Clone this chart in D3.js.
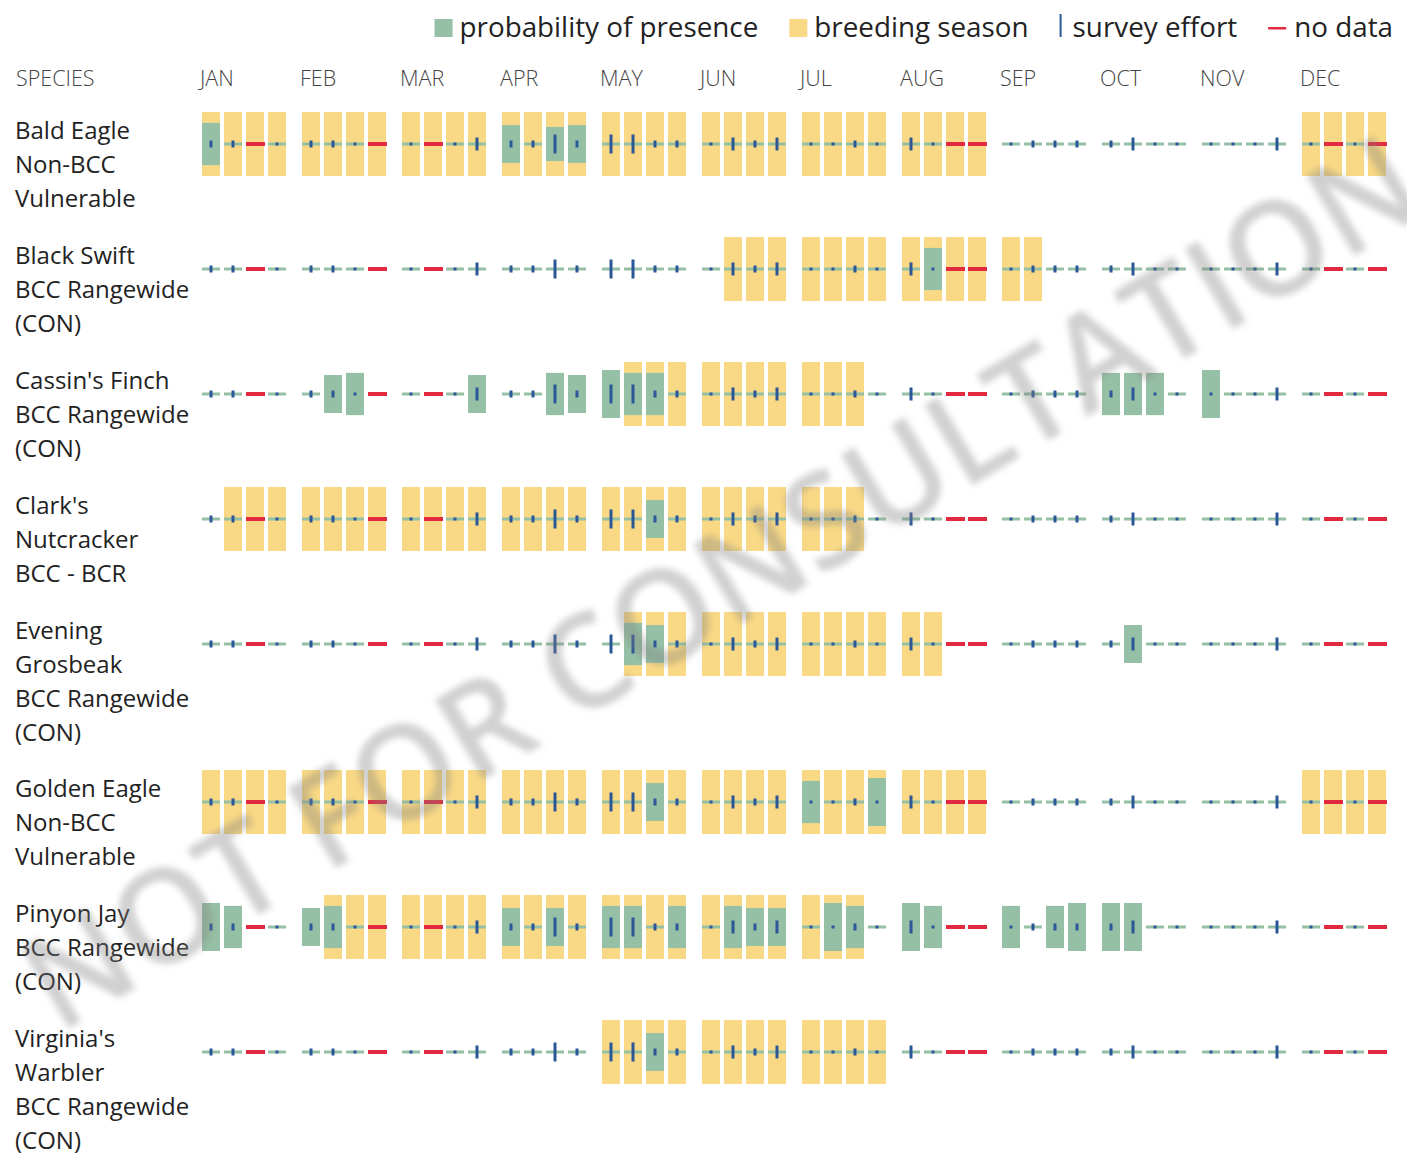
<!DOCTYPE html>
<html>
<head>
<meta charset="utf-8">
<script src="https://cdn.jsdelivr.net/npm/d3@7"></script>
<style>
  body { margin: 0; background: #fff; }
  text { font-family: "Open Sans", "Noto Sans", sans-serif; }
</style>
</head>
<body>
<div id="chart"></div>
<script>
const months = ["JAN", "FEB", "MAR", "APR", "MAY", "JUN", "JUL", "AUG", "SEP", "OCT", "NOV", "DEC"];
const weeks = [0, 1, 2, 3];

const speciesLabels = [
    ["Bald Eagle", "Non-BCC", "Vulnerable"],
    ["Black Swift", "BCC Rangewide", "(CON)"],
    ["Cassin's Finch", "BCC Rangewide", "(CON)"],
    ["Clark's", "Nutcracker", "BCC - BCR"],
    ["Evening", "Grosbeak", "BCC Rangewide", "(CON)"],
    ["Golden Eagle", "Non-BCC", "Vulnerable"],
    ["Pinyon Jay", "BCC Rangewide", "(CON)"],
    ["Virginia's", "Warbler", "BCC Rangewide", "(CON)"]
];

// survey effort per week (same for every species), null = no data
const surveyEffort = [
    1, 1, null, 0,   1, 1, 0, null,   0, null, 0, 2,   1, 1, 3, 1,
    3, 3, 1, 1,      0, 2, 1, 2,      0, 0, 1, 0,      2, 0, null, null,
    0, 1, 1, 1,      1, 2, 0, 0,      0, 0, 0, 2,      0, null, 0, null
];

// breeding season, inclusive week ranges
const breedingWeeks = [
    [[0, 31], [44, 47]],
    [[21, 33]],
    [[17, 26]],
    [[1, 26]],
    [[17, 29]],
    [[0, 31], [44, 47]],
    [[5, 26]],
    [[16, 27]]
];

// probability of presence, [week, probability]
const presence = [
    [[0, 0.88], [12, 0.79], [14, 0.71], [15, 0.79]],
    [[29, 0.88]],
    [[5, 0.79], [6, 0.88], [11, 0.79], [14, 0.88], [15, 0.79], [16, 1], [17, 0.88], [18, 0.88],
     [36, 0.88], [37, 0.88], [38, 0.88], [40, 1]],
    [[18, 0.79]],
    [[17, 0.88], [18, 0.79], [37, 0.79]],
    [[18, 0.79], [24, 0.88], [27, 1]],
    [[0, 1], [1, 0.88], [4, 0.79], [5, 0.88], [12, 0.79], [14, 0.79], [16, 0.88], [17, 0.88],
     [19, 0.88], [21, 0.88], [22, 0.79], [23, 0.79], [25, 1], [26, 0.88], [28, 1], [29, 0.88],
     [32, 0.88], [34, 0.88], [35, 1], [36, 1], [37, 1]],
    [[18, 0.79]]
];

const legendItems = [
    { label: "probability of presence", type: "presence" },
    { label: "breeding season", type: "breeding" },
    { label: "survey effort", type: "effort" },
    { label: "no data", type: "nodata" }
];

const colors = {
    presence: "#96c0a5",
    breeding: "#f9d985",
    effort: "#2b5797",
    nodata: "#e3293f"
};

const width = 1407;
const height = 1153;

const svg = d3.select("#chart")
    .append("svg")
    .attr("width", width)
    .attr("height", height);

const xMonth = d3.scaleBand()
    .domain(months)
    .range([202, 1386])
    .paddingInner(0.16)
    .paddingOuter(0);

const xWeek = d3.scaleBand()
    .domain(weeks)
    .range([0, xMonth.bandwidth()])
    .paddingInner(0.18);

const pScale = d3.scaleLinear().domain([0, 1]).range([0, 48]);
const effortScale = d3.scaleLinear().domain([0, 3]).range([1, 19]);
const cellH = 64;
const cw = xWeek.bandwidth();

const cellX = k => xMonth(months[Math.floor(k / 4)]) + xWeek(k % 4);

// row centres depend on the number of label lines
var rowY = [];
var y0 = 144;
speciesLabels.forEach(lines => {
    rowY.push(y0);
    y0 += lines.length * 33 + 26;
});

// header
svg.append("text")
    .attr("x", 16)
    .attr("y", 86)
    .attr("font-size", 21.5)
    .attr("font-weight", 300)
    .attr("fill", "#444")
    .text("SPECIES");

svg.append("g")
    .selectAll("text")
    .data(months)
    .enter().append("text")
    .attr("x", d => xMonth(d) - 2)
    .attr("y", 86)
    .attr("font-size", 21.5)
    .attr("font-weight", 300)
    .attr("fill", "#444")
    .text(d => d);

// rows
const rows = svg.append("g")
    .selectAll("g")
    .data(speciesLabels)
    .enter().append("g")
    .attr("transform", (d, i) => "translate(0," + rowY[i] + ")");

rows.append("text")
    .attr("font-size", 24)
    .attr("fill", "#222")
    .selectAll("tspan")
    .data(d => d)
    .enter().append("tspan")
    .attr("x", 15)
    .attr("y", (d, i) => -5 + i * 34)
    .text(d => d);

rows.each(function(lines, i) {
    const g = d3.select(this);
    const pMap = new Map(presence[i]);
    const cells = d3.range(48).map(k => ({
        k: k,
        effort: surveyEffort[k],
        breeding: breedingWeeks[i].some(r => k >= r[0] && k <= r[1]),
        p: pMap.get(k) || 0
    }));

    g.append("g")
        .selectAll("rect")
        .data(cells.filter(d => d.breeding))
        .enter().append("rect")
        .attr("x", d => cellX(d.k))
        .attr("y", -cellH / 2)
        .attr("width", cw)
        .attr("height", cellH)
        .attr("fill", colors.breeding);

    g.append("g")
        .selectAll("rect")
        .data(cells.filter(d => d.effort !== null))
        .enter().append("rect")
        .attr("x", d => cellX(d.k))
        .attr("y", -1.5)
        .attr("width", cw)
        .attr("height", 3)
        .attr("fill", colors.presence);

    g.append("g")
        .selectAll("rect")
        .data(cells.filter(d => d.p > 0))
        .enter().append("rect")
        .attr("x", d => cellX(d.k))
        .attr("y", d => -pScale(d.p) / 2)
        .attr("width", cw)
        .attr("height", d => pScale(d.p))
        .attr("fill", colors.presence);

    g.append("g")
        .selectAll("rect")
        .data(cells.filter(d => d.effort === null))
        .enter().append("rect")
        .attr("x", d => cellX(d.k))
        .attr("y", -2)
        .attr("width", cw + 1)
        .attr("height", 4)
        .attr("fill", colors.nodata);

    g.append("g")
        .selectAll("rect")
        .data(cells.filter(d => d.effort !== null))
        .enter().append("rect")
        .attr("x", d => cellX(d.k) + cw / 2 - 1.5)
        .attr("y", d => -Math.max(3, effortScale(d.effort)) / 2)
        .attr("width", 3)
        .attr("height", d => Math.max(3, effortScale(d.effort)))
        .attr("fill", colors.effort);
});

// legend, laid out from the right edge
const legend = svg.append("g");
var lx = 1393;
legendItems.slice().reverse().forEach(item => {
    const t = legend.append("text")
        .attr("y", 37)
        .attr("font-size", 27.8)
        .attr("fill", "#222")
        .text(item.label);
    const tw = t.node().getComputedTextLength();
    t.attr("x", lx - tw);
    const tx = lx - tw;
    if (item.type === "presence" || item.type === "breeding") {
        legend.append("rect")
            .attr("x", tx - 25).attr("y", 19)
            .attr("width", 18).attr("height", 18)
            .attr("fill", colors[item.type]);
        lx = tx - 25 - 31;
    } else if (item.type === "effort") {
        legend.append("rect")
            .attr("x", tx - 13).attr("y", 14)
            .attr("width", 2).attr("height", 23)
            .attr("fill", colors.effort);
        lx = tx - 13 - 31;
    } else {
        legend.append("rect")
            .attr("x", tx - 26).attr("y", 27)
            .attr("width", 18).attr("height", 2.5)
            .attr("fill", colors.nodata);
        lx = tx - 26 - 31;
    }
});

// watermark
svg.append("defs").append("filter")
    .attr("id", "soft")
    .append("feGaussianBlur")
    .attr("stdDeviation", 3);

svg.append("text")
    .attr("transform", "translate(745,622) rotate(-31)")
    .attr("text-anchor", "middle")
    .attr("font-size", 130)
    .attr("font-weight", 600)
    .attr("fill", "#808080")
    .attr("opacity", 0.36)
    .attr("filter", "url(#soft)")
    .text("NOT FOR CONSULTATION");
</script>
</body>
</html>
